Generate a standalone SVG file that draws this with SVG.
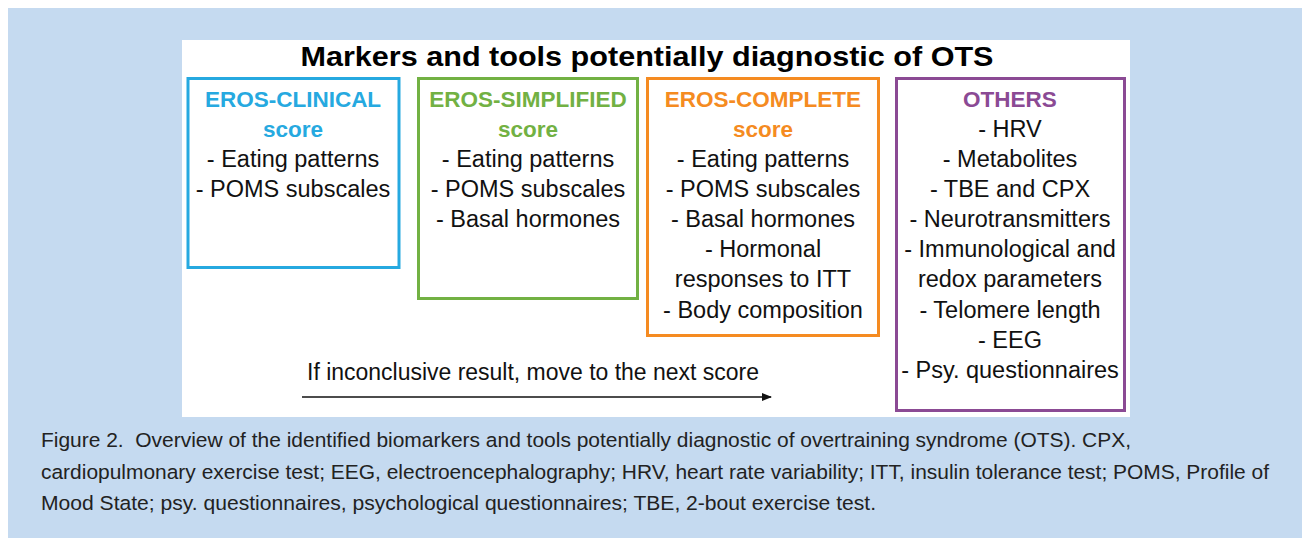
<svg xmlns="http://www.w3.org/2000/svg" width="1302" height="538" viewBox="0 0 1302 538">
<style>
.body{font-family:"Liberation Sans",Arial,sans-serif;font-size:23.5px;fill:#111;text-anchor:middle}
.head{font-family:"Liberation Sans",Arial,sans-serif;font-size:22.5px;font-weight:bold;text-anchor:middle}
.cap{font-family:"Liberation Sans",Arial,sans-serif;font-size:20.5px;fill:#222}
.box{fill:none;stroke-width:3}
</style>
<defs>
<marker id="ah" markerWidth="10" markerHeight="8" refX="9" refY="4" orient="auto" markerUnits="userSpaceOnUse">
<path d="M0,0 L10,4 L0,8 Z" fill="#111"/>
</marker>
</defs>
<rect x="0" y="0" width="1302" height="538" fill="#ffffff"/>
<rect x="8" y="8" width="1294" height="530" fill="#c5daf0"/>
<rect x="182" y="40" width="948" height="377" fill="#ffffff"/>
<text x="647" y="66" font-family="'Liberation Sans',Arial,sans-serif" font-size="28" font-weight="bold" fill="#000" text-anchor="middle" textLength="693" lengthAdjust="spacingAndGlyphs">Markers and tools potentially diagnostic of OTS</text>

<g id="clinical">
<rect class="box" x="188" y="78.5" width="211" height="189" stroke="#26a9e0"/>
<text class="head" x="293" y="107" fill="#26a9e0">EROS-CLINICAL</text>
<text class="head" x="293" y="137" fill="#26a9e0">score</text>
<text class="body" x="293" y="167">- Eating patterns</text>
<text class="body" x="293" y="197">- POMS subscales</text>
</g>

<g id="simplified">
<rect class="box" x="418.5" y="78.5" width="219" height="220" stroke="#72b143"/>
<text class="head" x="528" y="107" fill="#72b143">EROS-SIMPLIFIED</text>
<text class="head" x="528" y="137" fill="#72b143">score</text>
<text class="body" x="528" y="167">- Eating patterns</text>
<text class="body" x="528" y="197">- POMS subscales</text>
<text class="body" x="528" y="227">- Basal hormones</text>
</g>

<g id="complete">
<rect class="box" x="647.5" y="78.5" width="231" height="257" stroke="#f58b21"/>
<text class="head" x="763" y="107" fill="#f58b21">EROS-COMPLETE</text>
<text class="head" x="763" y="137" fill="#f58b21">score</text>
<text class="body" x="763" y="167">- Eating patterns</text>
<text class="body" x="763" y="197">- POMS subscales</text>
<text class="body" x="763" y="227">- Basal hormones</text>
<text class="body" x="763" y="257">- Hormonal</text>
<text class="body" x="763" y="287">responses to ITT</text>
<text class="body" x="763" y="318">- Body composition</text>
</g>

<g id="others">
<rect class="box" x="896.5" y="78.5" width="228" height="332" stroke="#8b4a94"/>
<text class="head" x="1010" y="107" fill="#8b4a94">OTHERS</text>
<text class="body" x="1010" y="137">- HRV</text>
<text class="body" x="1010" y="167">- Metabolites</text>
<text class="body" x="1010" y="197">- TBE and CPX</text>
<text class="body" x="1010" y="227">- Neurotransmitters</text>
<text class="body" x="1010" y="257">- Immunological and</text>
<text class="body" x="1010" y="287">redox parameters</text>
<text class="body" x="1010" y="318">- Telomere length</text>
<text class="body" x="1010" y="348">- EEG</text>
<text class="body" x="1010" y="378">- Psy. questionnaires</text>
</g>

<g id="connectors">
<line x1="302" y1="397" x2="771" y2="397" stroke="#111" stroke-width="1.6" marker-end="url(#ah)"/>
<text class="body" x="533" y="380" textLength="452" lengthAdjust="spacingAndGlyphs">If inconclusive result, move to the next score</text>
</g>

<text class="cap" x="41" y="447" textLength="1090" lengthAdjust="spacingAndGlyphs">Figure 2.&#160; Overview of the identified biomarkers and tools potentially diagnostic of overtraining syndrome (OTS). CPX,</text>
<text class="cap" x="41" y="479" textLength="1228" lengthAdjust="spacingAndGlyphs">cardiopulmonary exercise test; EEG, electroencephalography; HRV, heart rate variability; ITT, insulin tolerance test; POMS, Profile of</text>
<text class="cap" x="41" y="510" textLength="835" lengthAdjust="spacingAndGlyphs">Mood State; psy. questionnaires, psychological questionnaires; TBE, 2-bout exercise test.</text>
</svg>
